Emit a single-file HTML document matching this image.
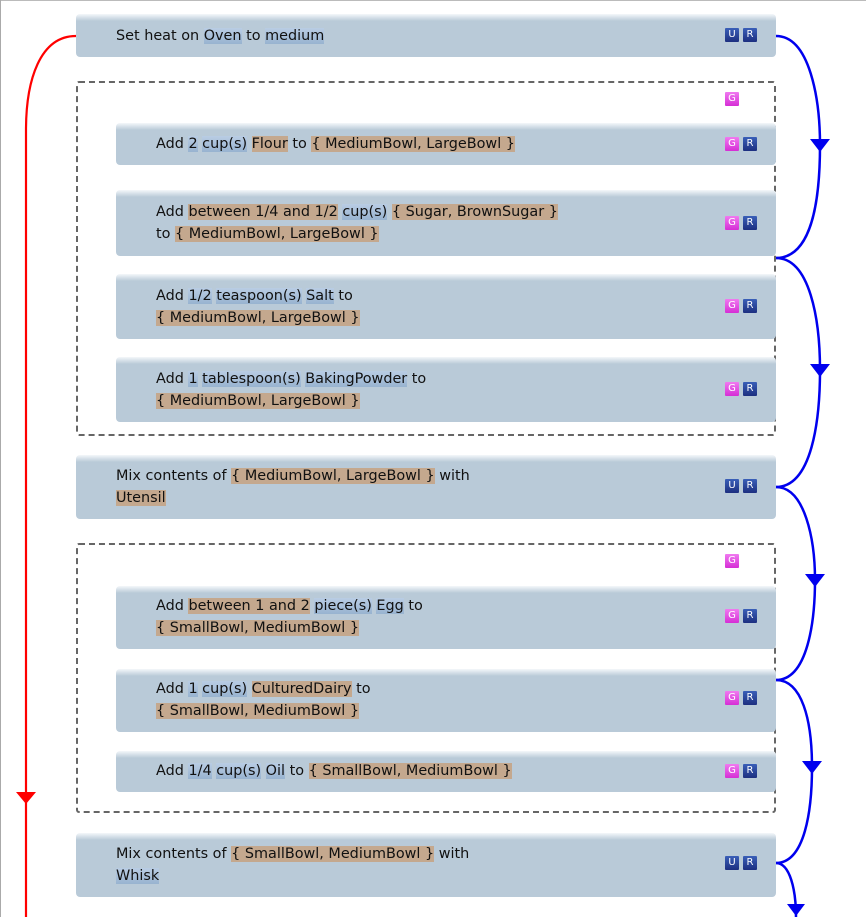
<!DOCTYPE html>
<html><head><meta charset="utf-8"><style>
body{margin:0;width:866px;height:917px;background:#fff;position:relative;overflow:hidden;font-family:"DejaVu Sans","Liberation Sans",sans-serif;font-size:14.4px;color:#111}
.topline{position:absolute;left:0;top:0;width:866px;height:1px;background:#bbb}
.leftline{position:absolute;left:0;top:0;width:1px;height:917px;background:#aaa}
.box{position:absolute;background:linear-gradient(#f4f7fa 0px,#b9cad8 7px,#b9cad8 100%);border-radius:4px}
.grp{position:absolute;border:2.5px dashed #666;border-radius:3px;box-sizing:border-box}
.t{position:absolute;white-space:nowrap;line-height:22px}
.b{background:linear-gradient(#b9cde4,#98b3d0);}
.n{background:#c4a88e}
.bd{position:absolute;width:14px;height:14px;font-size:10px;line-height:14px;text-align:center;color:#fff;border-radius:1px}
.u,.r{background:linear-gradient(#3a5fb8,#1d2f80)}
.g{background:linear-gradient(#f07af0,#d52ed5)}
svg{position:absolute;left:0;top:0}
</style></head><body>
<div class="topline"></div><div class="leftline"></div>

<div class="box" style="left:76px;top:14px;width:700px;height:43px"></div>
<div class="t" style="left:116px;top:25px">Set heat on <span class="b">Oven</span> to <span class="b">medium</span></div>
<div class="bd u" style="left:725px;top:28px">U</div><div class="bd r" style="left:743px;top:28px">R</div>

<div class="grp" style="left:76px;top:81px;width:700px;height:355px"></div>
<div class="bd g" style="left:725px;top:92px">G</div>
<div class="box" style="left:116px;top:123px;width:660px;height:42px"></div>
<div class="t" style="left:156px;top:133px">Add <span class="b">2</span> <span class="b">cup(s)</span> <span class="n">Flour</span> to <span class="n">{ MediumBowl, LargeBowl }</span></div>
<div class="bd g" style="left:725px;top:137px">G</div><div class="bd r" style="left:743px;top:137px">R</div>

<div class="box" style="left:116px;top:190px;width:660px;height:66px"></div>
<div class="t" style="left:156px;top:201px">Add <span class="n">between 1/4 and 1/2</span> <span class="b">cup(s)</span> <span class="n">{ Sugar, BrownSugar }</span><br>to <span class="n">{ MediumBowl, LargeBowl }</span></div>
<div class="bd g" style="left:725px;top:216px">G</div><div class="bd r" style="left:743px;top:216px">R</div>

<div class="box" style="left:116px;top:274px;width:660px;height:65px"></div>
<div class="t" style="left:156px;top:285px">Add <span class="b">1/2</span> <span class="b">teaspoon(s)</span> <span class="b">Salt</span> to<br><span class="n">{ MediumBowl, LargeBowl }</span></div>
<div class="bd g" style="left:725px;top:299px">G</div><div class="bd r" style="left:743px;top:299px">R</div>

<div class="box" style="left:116px;top:357px;width:660px;height:65px"></div>
<div class="t" style="left:156px;top:368px">Add <span class="b">1</span> <span class="b">tablespoon(s)</span> <span class="b">BakingPowder</span> to<br><span class="n">{ MediumBowl, LargeBowl }</span></div>
<div class="bd g" style="left:725px;top:382px">G</div><div class="bd r" style="left:743px;top:382px">R</div>

<div class="box" style="left:76px;top:455px;width:700px;height:64px"></div>
<div class="t" style="left:116px;top:465px">Mix contents of <span class="n">{ MediumBowl, LargeBowl }</span> with<br><span class="n">Utensil</span></div>
<div class="bd u" style="left:725px;top:479px">U</div><div class="bd r" style="left:743px;top:479px">R</div>

<div class="grp" style="left:76px;top:543px;width:700px;height:270px"></div>
<div class="bd g" style="left:725px;top:554px">G</div>
<div class="box" style="left:116px;top:586px;width:660px;height:63px"></div>
<div class="t" style="left:156px;top:595px">Add <span class="n">between 1 and 2</span> <span class="b">piece(s)</span> <span class="b">Egg</span> to<br><span class="n">{ SmallBowl, MediumBowl }</span></div>
<div class="bd g" style="left:725px;top:609px">G</div><div class="bd r" style="left:743px;top:609px">R</div>

<div class="box" style="left:116px;top:669px;width:660px;height:63px"></div>
<div class="t" style="left:156px;top:678px">Add <span class="b">1</span> <span class="b">cup(s)</span> <span class="n">CulturedDairy</span> to<br><span class="n">{ SmallBowl, MediumBowl }</span></div>
<div class="bd g" style="left:725px;top:691px">G</div><div class="bd r" style="left:743px;top:691px">R</div>

<div class="box" style="left:116px;top:751px;width:660px;height:41px"></div>
<div class="t" style="left:156px;top:760px">Add <span class="b">1/4</span> <span class="b">cup(s)</span> <span class="b">Oil</span> to <span class="n">{ SmallBowl, MediumBowl }</span></div>
<div class="bd g" style="left:725px;top:764px">G</div><div class="bd r" style="left:743px;top:764px">R</div>

<div class="box" style="left:76px;top:833px;width:700px;height:64px"></div>
<div class="t" style="left:116px;top:843px">Mix contents of <span class="n">{ SmallBowl, MediumBowl }</span> with<br><span class="b">Whisk</span></div>
<div class="bd u" style="left:725px;top:856px">U</div><div class="bd r" style="left:743px;top:856px">R</div>

<svg width="866" height="917" viewBox="0 0 866 917">
<g fill="none" stroke="#0000ee" stroke-width="2.5">
<path d="M776 36 C810 36 820 100 820 145 C820 200 812 258 776 258"/>
<path d="M776 258 C810 258 820 320 820 370 C820 420 812 487 776 487"/>
<path d="M776 487 C805 487 815 540 815 580 C815 620 808 680 776 680"/>
<path d="M776 680 C802 680 812 720 812 767 C812 810 805 863 776 863"/>
<path d="M776 863 C790 863 796 890 796 917"/>
</g>
<g fill="#0000ee">
<polygon points="810,139 830,139 820,152"/>
<polygon points="810,364 830,364 820,377"/>
<polygon points="805,574 825,574 815,587"/>
<polygon points="802,761 822,761 812,774"/>
<polygon points="787,904 805,904 796,916"/>
</g>
<path d="M76 36 C40 36 26 80 26 130 L26 917" fill="none" stroke="#ff0000" stroke-width="2.2"/>
<polygon points="16,792 36,792 26,804" fill="#ff0000"/>
</svg>
</body></html>
